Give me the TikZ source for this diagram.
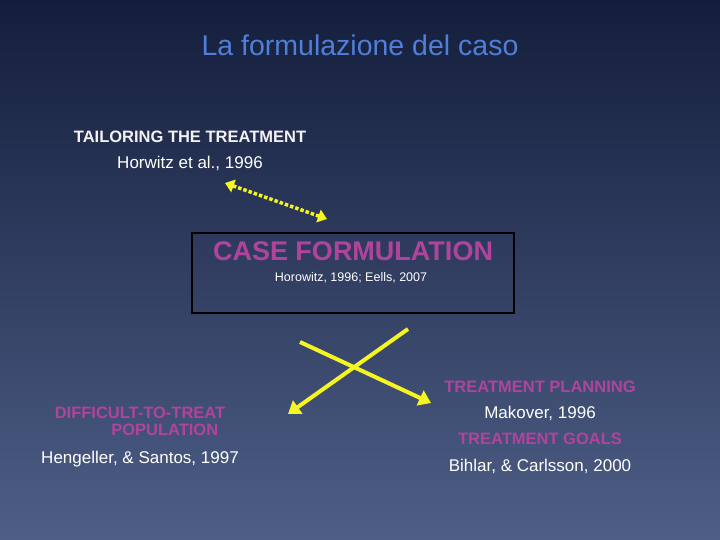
\documentclass[tikz,border=0pt]{standalone}
\usepackage{fontspec}
\setmainfont{Liberation Sans}
\usetikzlibrary{arrows.meta}
\definecolor{bgtop}{HTML}{141E3C}
\definecolor{bgbot}{HTML}{4E5E86}
\definecolor{ttl}{HTML}{4F7FD8}
\definecolor{mag}{HTML}{B0449C}
\definecolor{yel}{HTML}{F5F520}
\tikzset{
 hd/.style={text=mag,font=\bfseries\fontsize{16.5}{19}\selectfont,align=center},
 ref/.style={text=white,font=\fontsize{17}{20}\selectfont,align=center},
 yarr/.style={draw=yel,line width=4pt,-{Triangle[length=12pt,width=16pt]}},
}
\begin{document}
\begin{tikzpicture}[x=1pt,y=-1pt]
\useasboundingbox (0,0) rectangle (720,540);
\shade[top color=bgtop,bottom color=bgbot] (0,0) rectangle (720,540);
\node[text=ttl,font=\fontsize{28.5}{32}\selectfont] (title) at (360,45) {La formulazione del caso};
\node[hd,text=white!90!gray] (tt) at (190,137) {TAILORING THE TREATMENT};
\node[ref] (th) at (190,163) {Horwitz et al., 1996};
\node[draw=black,line width=2.5pt,minimum width=322pt,minimum height=80pt] (cf) at (353,273) {};
\node[text=mag,font=\bfseries\fontsize{27}{30}\selectfont] (cft) at (353,251) {CASE FORMULATION};
\node[text=white,font=\fontsize{12.5}{14}\selectfont] (cfr) at (351,278) {Horowitz, 1996; Eells, 2007};
\coordinate (d1) at (225,183);
\coordinate (d2) at (327,219);
\draw[draw=yel,line width=3.5pt,dotted,{Triangle[length=9pt,width=13pt]}-{Triangle[length=9pt,width=13pt]}] (d1) -- (d2);
\node[hd,align=center] (dt) at (140,421) {DIFFICULT-TO-TREAT\\[-2pt]\hspace*{3em}POPULATION};
\node[ref] (dh) at (140,459) {Hengeller, \& Santos, 1997};
\node[hd] (tp) at (540,387) {TREATMENT PLANNING};
\node[ref] (tm) at (540,413) {Makover, 1996};
\node[hd] (tg) at (540,439) {TREATMENT GOALS};
\node[ref] (tb) at (540,466) {Bihlar, \& Carlsson, 2000};
\coordinate (a1) at (300,342);
\coordinate (a2) at (431,403);
\coordinate (b1) at (408,329);
\coordinate (b2) at (288,414);
\draw[yarr] (a1) -- (a2);
\draw[yarr] (b1) -- (b2);
\end{tikzpicture}
\end{document}
